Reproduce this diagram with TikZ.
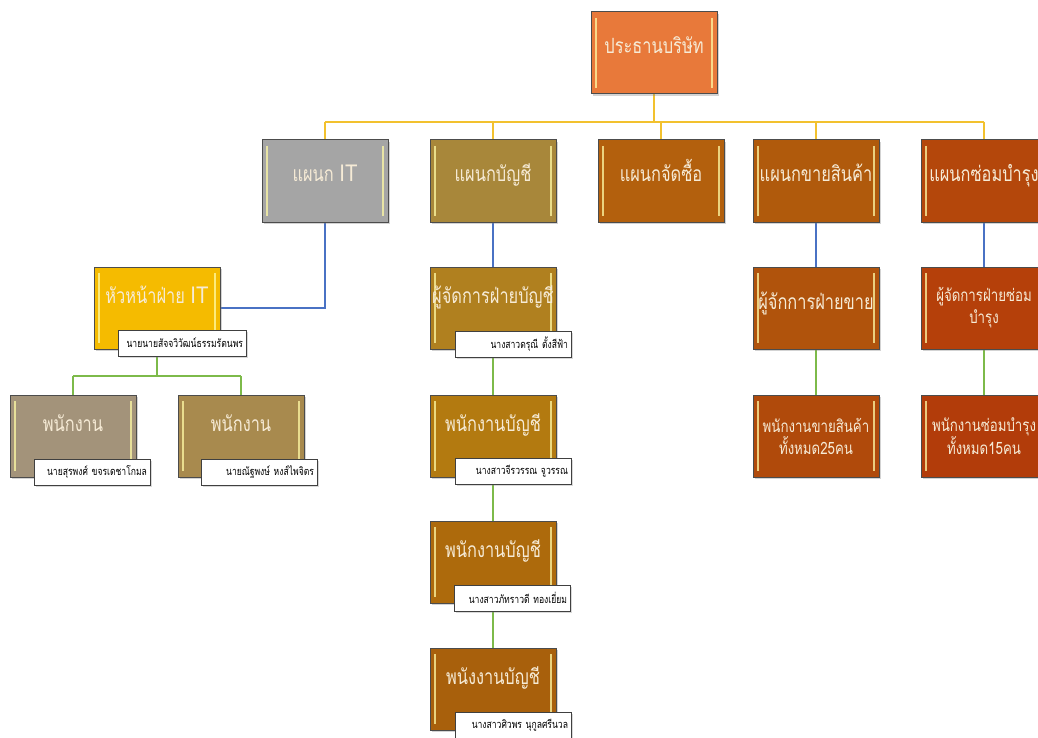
\documentclass[tikz,border=0pt]{standalone}
\usepackage{fontspec}
\newfontfamily\thaifont[Script=Thai,FakeStretch=0.78]{Loma}
\newfontfamily\latinfont[FakeStretch=0.85]{Liberation Sans}
\usetikzlibrary{shadows,backgrounds}
\definecolor{presfill}{HTML}{E8793A}
\definecolor{itfill}{HTML}{A5A5A5}
\definecolor{accfill}{HTML}{A8873A}
\definecolor{purfill}{HTML}{B3600D}
\definecolor{salfill}{HTML}{B05A0C}
\definecolor{repfill}{HTML}{B4470B}
\definecolor{headfill}{HTML}{F5BB00}
\definecolor{staffa}{HTML}{A3937A}
\definecolor{staffb}{HTML}{A88A4E}
\definecolor{accman}{HTML}{B0801F}
\definecolor{accsta}{HTML}{B37A10}
\definecolor{accstb}{HTML}{AD6A0C}
\definecolor{accstc}{HTML}{A8600C}
\definecolor{salman}{HTML}{B0530C}
\definecolor{salst}{HTML}{B04A0B}
\definecolor{repman}{HTML}{B5400A}
\definecolor{repst}{HTML}{B23C0A}
\definecolor{boxtext}{HTML}{F6EBD6}
\definecolor{yline}{HTML}{F2C12E}
\definecolor{bline}{HTML}{4A72C4}
\definecolor{gline}{HTML}{7DBA4A}
\tikzset{
  orgbox/.style={
    rectangle, draw=black!70, line width=1pt, fill=#1,
    minimum width=126pt, minimum height=82pt, inner sep=1pt,
    text=boxtext, align=center, text height=12pt, text depth=10pt,
    font=\thaifont\fontsize{21}{24}\selectfont,
    drop shadow={shadow xshift=2pt, shadow yshift=-2pt, opacity=.35},
    path picture={
      \draw[line width=1.4pt, yellow!35!white, opacity=.75]
        ([xshift=5pt,yshift=-6pt]path picture bounding box.north west)
        -- ([xshift=5pt,yshift=6pt]path picture bounding box.south west)
        ([xshift=-5pt,yshift=-6pt]path picture bounding box.north east)
        -- ([xshift=-5pt,yshift=6pt]path picture bounding box.south east);
    }
  },
  captioned/.style={text height=10pt, text depth=19pt},
  twoline/.style={text height=, text depth=, font=\thaifont\fontsize{17}{22}\selectfont},
  namebox/.style={
    rectangle, draw=black!75, line width=.9pt, fill=white,
    minimum width=116pt, minimum height=26pt, inner sep=1pt,
    text width=110pt, align=right,
    font=\thaifont\fontsize{11}{12}\selectfont,
    drop shadow={shadow xshift=1.5pt, shadow yshift=-1.5pt, opacity=.3}
  },
  yconn/.style={draw=yline, line width=1.8pt},
  bconn/.style={draw=bline, line width=1.4pt},
  gconn/.style={draw=gline, line width=1.4pt}
}
\begin{document}
\begin{tikzpicture}[x=1pt,y=-1pt]
\clip (0,0) rectangle (1038,738);
\useasboundingbox (0,0) rectangle (1038,738);

% top and departments
\node[orgbox=presfill] (pres) at (654,53) {ประธานบริษัท};
\node[orgbox=itfill] (itdept) at (325,181) {แผนก {\latinfont\fontsize{24}{24}\selectfont IT}};
\node[orgbox=accfill] (accdept) at (493,181) {แผนกบัญชี};
\node[orgbox=purfill] (purdept) at (661,181) {แผนกจัดซื้อ};
\node[orgbox=salfill] (saldept) at (816,181) {แผนกขายสินค้า};
\node[orgbox=repfill] (repdept) at (984,181) {แผนกซ่อมบำรุง};

% IT
\node[orgbox=headfill, captioned] (ithead) at (157,308) {หัวหน้าฝ่าย {\latinfont\fontsize{24}{24}\selectfont IT}};
\node[namebox, minimum width=128pt, text width=122pt] (itheadname) at (182,343) {นายนายสัจจวิวัฒน์ธรรมรัตนพร};
\node[orgbox=staffa, captioned] (itstaffa) at (73,436) {พนักงาน};
\node[orgbox=staffb, captioned] (itstaffb) at (241,436) {พนักงาน};
\node[namebox] (itstaffaname) at (92,472) {นายสุรพงศ์ ขจรเดชาโกมล};
\node[namebox] (itstaffbname) at (259,472) {นายณัฐพงษ์ หงส์ไพจิตร};

% accounting
\node[orgbox=accman, captioned] (accmgr) at (493,308) {ผู้จัดการฝ่ายบัญชี};
\node[namebox] (accmgrname) at (513,344) {นางสาวดรุณี ตั้งสีฟ้า};
\node[orgbox=accsta, captioned] (accstaffa) at (493,436) {พนักงานบัญชี};
\node[namebox] (accstaffaname) at (513,471) {นางสาวจีรวรรณ จูวรรณ};
\node[orgbox=accstb, captioned] (accstaffb) at (493,562) {พนักงานบัญชี};
\node[namebox] (accstaffbname) at (512,598) {นางสาวภัทราวดี ทองเยี่ยม};
\node[orgbox=accstc, captioned] (accstaffc) at (493,689) {พนังงานบัญชี};
\node[namebox] (accstaffcname) at (513,725) {นางสาวศิวพร นุกูลศรีนวล};

% sales and repair
\node[orgbox=salman] (salmgr) at (816,308) {ผู้จักการฝ่ายขาย};
\node[orgbox=salst, twoline] (salstaff) at (816,436) {พนักงานขายสินค้า\\ทั้งหมด25คน};
\node[orgbox=repman, twoline] (repmgr) at (984,308) {ผู้จัดการฝ่ายซ่อม\\บำรุง};
\node[orgbox=repst, twoline] (repstaff) at (984,436) {พนักงานซ่อมบำรุง\\ทั้งหมด15คน};

\begin{scope}[on background layer]
  \coordinate (topbus) at (654,122);
  \coordinate (itbus) at (157,376);
  \draw[yconn] (pres.south) -- (topbus);
  \draw[yconn] (topbus -| itdept.north) -- (topbus -| repdept.north);
  \foreach \d in {itdept,accdept,purdept,saldept,repdept}
    \draw[yconn] (topbus -| \d.north) -- (\d.north);
  \draw[bconn] (itdept.south) |- (ithead.east);
  \draw[bconn] (accdept.south) -- (accmgr.north);
  \draw[bconn] (saldept.south) -- (salmgr.north);
  \draw[bconn] (repdept.south) -- (repmgr.north);
  \draw[gconn] (ithead.south) -- (itbus);
  \draw[gconn] (itbus -| itstaffa.north) -- (itbus -| itstaffb.north);
  \draw[gconn] (itbus -| itstaffa.north) -- (itstaffa.north);
  \draw[gconn] (itbus -| itstaffb.north) -- (itstaffb.north);
  \draw[gconn] (accmgr.south) -- (accstaffa.north);
  \draw[gconn] (accstaffa.south) -- (accstaffb.north);
  \draw[gconn] (accstaffb.south) -- (accstaffc.north);
  \draw[gconn] (salmgr.south) -- (salstaff.north);
  \draw[gconn] (repmgr.south) -- (repstaff.north);
\end{scope}
\end{tikzpicture}
\end{document}
